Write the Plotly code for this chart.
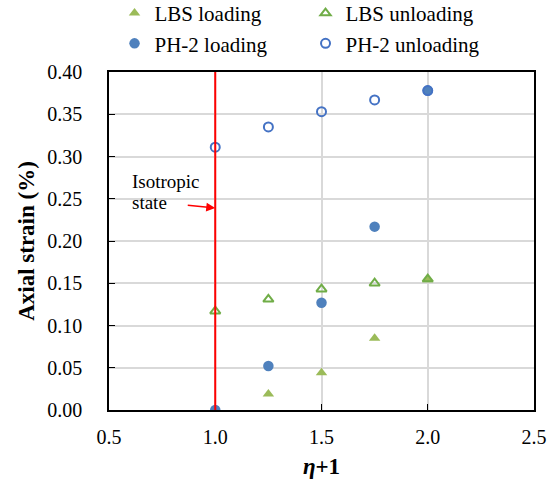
import plotly.graph_objects as go

# ---- data ----
eta1 = [1.0, 1.25, 1.5, 1.75, 2.0]
lbs_loading = [0.0, 0.019, 0.044, 0.085, 0.154]
lbs_unloading = [0.117, 0.131, 0.143, 0.150, 0.155]
ph2_loading = [0.0, 0.052, 0.127, 0.217, 0.378]
ph2_unloading = [0.311, 0.335, 0.353, 0.367, 0.378]

x_ticks = [0.5, 1.0, 1.5, 2.0, 2.5]
y_ticks = [0.00, 0.05, 0.10, 0.15, 0.20, 0.25, 0.30, 0.35, 0.40]
iso_x = 1.0
arrow_y = 0.239
label_x = 0.6
label_lines = ["Isotropic", "state"]
label_ys = [0.271, 0.245]

FONT = "Liberation Serif"
GREEN_FILL = "#9BBB59"
GREEN_LINE = "#70AD47"
BLUE_FILL = "#4F81BD"
BLUE_LINE = "#4472C4"

fig = go.Figure()
fig.add_trace(go.Scatter(x=eta1, y=lbs_loading, mode="markers", name="LBS loading",
                         marker=dict(symbol="triangle-up", size=10, color=GREEN_FILL,
                                     line=dict(width=0))))
fig.add_trace(go.Scatter(x=eta1, y=lbs_unloading, mode="markers", name="LBS unloading",
                         marker=dict(symbol="triangle-up-open", size=9, color=GREEN_LINE,
                                     line=dict(width=2, color=GREEN_LINE))))
fig.add_trace(go.Scatter(x=eta1, y=ph2_loading, mode="markers", name="PH-2 loading",
                         marker=dict(symbol="circle", size=10.5, color=BLUE_FILL,
                                     line=dict(width=0))))
fig.add_trace(go.Scatter(x=eta1, y=ph2_unloading, mode="markers", name="PH-2 unloading",
                         marker=dict(symbol="circle-open", size=9, color=BLUE_LINE,
                                     line=dict(width=2, color=BLUE_LINE))))

fig.add_shape(type="line", xref="x", yref="y", x0=iso_x, x1=iso_x,
              y0=y_ticks[0], y1=y_ticks[-1], line=dict(color="#FF0000", width=2))

fig.add_annotation(x=iso_x, y=arrow_y, xref="x", yref="y", text="",
                   showarrow=True, arrowhead=2, arrowsize=1.2, arrowwidth=1.5,
                   arrowcolor="#FF0000", ax=-29, ay=-3)
for txt, yy in zip(label_lines, label_ys):
    fig.add_annotation(x=label_x, y=yy, xref="x", yref="y", text=txt,
                       showarrow=False, xanchor="left", yanchor="middle", align="left",
                       font=dict(family=FONT, size=19, color="black"))

tickfont = dict(family=FONT, size=20, color="black")
fig.update_layout(
    width=555, height=483,
    margin=dict(l=109, r=21, t=72, b=73, autoexpand=False),
    paper_bgcolor="white", plot_bgcolor="white",
    font=dict(family=FONT, size=20, color="black"),
    showlegend=True,
    legend=dict(orientation="h", x=0.013, xanchor="left", xref="paper",
                y=1.234, yref="paper", yanchor="top",
                entrywidth=146, entrywidthmode="pixels",
                font=dict(family=FONT, size=21, color="black"),
                bgcolor="rgba(0,0,0,0)", tracegroupgap=0),
    xaxis=dict(range=[0.5, 2.5], tickvals=x_ticks, ticktext=[f"{v:.1f}" for v in x_ticks],
               tickfont=tickfont, ticklabelstandoff=8,
               showgrid=True, gridcolor="#D9D9D9", gridwidth=1.5,
               showline=True, linecolor="black", linewidth=1.5, mirror=True,
               ticks="inside", ticklen=6, tickcolor="black", zeroline=False,
               title=dict(text="<b><i>η</i>+1</b>", font=dict(family=FONT, size=23), standoff=11)),
    yaxis=dict(range=[0, 0.4], tickvals=y_ticks, ticktext=[f"{v:.2f}" for v in y_ticks],
               tickfont=tickfont, ticklabelstandoff=21,
               showgrid=True, gridcolor="#D9D9D9", gridwidth=1.5,
               showline=True, linecolor="black", linewidth=1.5, mirror=True,
               ticks="inside", ticklen=6, tickcolor="black", zeroline=False,
               title=dict(text="<b>Axial strain (%)</b>", font=dict(family=FONT, size=23), standoff=6)),
)

fig.write_html("out.html")
